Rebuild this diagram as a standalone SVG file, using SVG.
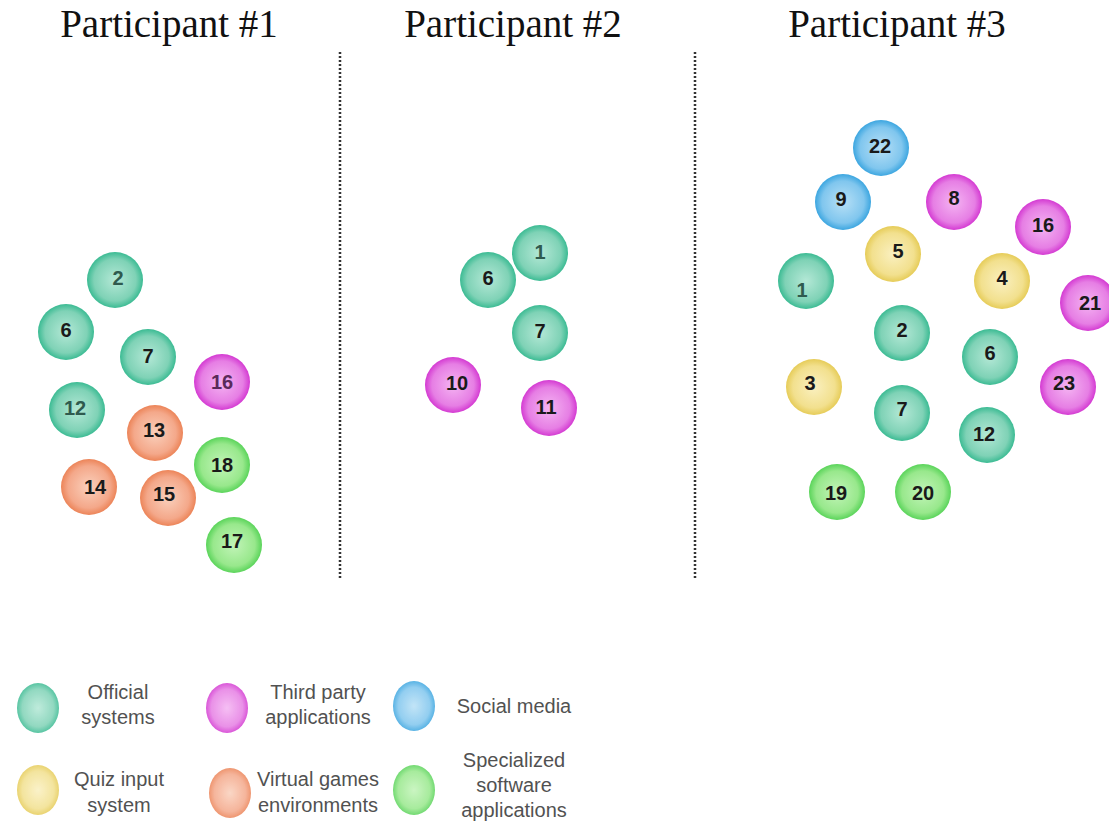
<svg xmlns="http://www.w3.org/2000/svg" width="1109" height="822" viewBox="0 0 1109 822">
<defs>
<radialGradient id="gT"><stop offset="0" stop-color="#b4e8d6"/><stop offset="0.75" stop-color="#7fd2b6"/><stop offset="1" stop-color="#3bbb93"/></radialGradient>
<radialGradient id="gM"><stop offset="0" stop-color="#f4b4f2"/><stop offset="0.75" stop-color="#e67ee4"/><stop offset="1" stop-color="#d43ad2"/></radialGradient>
<radialGradient id="gO"><stop offset="0" stop-color="#fad0bc"/><stop offset="0.75" stop-color="#f4a88a"/><stop offset="1" stop-color="#ec8458"/></radialGradient>
<radialGradient id="gG"><stop offset="0" stop-color="#c2f4b8"/><stop offset="0.75" stop-color="#98e88c"/><stop offset="1" stop-color="#5ad45a"/></radialGradient>
<radialGradient id="gY"><stop offset="0" stop-color="#faf0c0"/><stop offset="0.75" stop-color="#f2e08e"/><stop offset="1" stop-color="#e6cc58"/></radialGradient>
<radialGradient id="gB"><stop offset="0" stop-color="#b8e0f6"/><stop offset="0.75" stop-color="#80c6ee"/><stop offset="1" stop-color="#3ca6e0"/></radialGradient>
</defs>
<style>
.title{font-family:"Liberation Serif","Times New Roman",serif;font-size:39px;fill:#111;text-anchor:middle}
.n{font-family:"Liberation Sans",Arial,sans-serif;font-size:20px;font-weight:bold;fill:#1a1a1a;text-anchor:middle;dominant-baseline:central}
.lg{font-family:"Liberation Sans",Arial,sans-serif;font-size:20px;fill:#333;text-anchor:middle}
.sep{stroke:#333;stroke-width:2.5;stroke-dasharray:2 2}
.T{fill:url(#gT)} .M{fill:url(#gM)} .O{fill:url(#gO)} .G{fill:url(#gG)} .Y{fill:url(#gY)} .B{fill:url(#gB)}
</style>
<rect width="1109" height="822" fill="#fff"/>
<g id="titles">
<text class="title" x="169" y="37">Participant #1</text>
<text class="title" x="513" y="37">Participant #2</text>
<text class="title" x="897" y="37">Participant #3</text>
</g>
<g id="connectors">
<line class="sep" x1="340" y1="52" x2="340" y2="578"/>
<line class="sep" x1="695" y1="52" x2="695" y2="578"/>
</g>
<g id="p1">
<g id="p1-2"><circle class="T" cx="115" cy="280" r="28"/><text class="n" x="118" y="278" style="fill:#2f5a4e">2</text></g>
<g id="p1-6"><circle class="T" cx="66" cy="332" r="28"/><text class="n" x="66" y="330">6</text></g>
<g id="p1-7"><circle class="T" cx="148" cy="357" r="28"/><text class="n" x="148" y="356">7</text></g>
<g id="p1-16"><circle class="M" cx="222" cy="382" r="28"/><text class="n" x="222" y="382" style="fill:#5a2a5a">16</text></g>
<g id="p1-12"><circle class="T" cx="77" cy="410" r="28"/><text class="n" x="75" y="408" style="fill:#2f5a4e">12</text></g>
<g id="p1-13"><circle class="O" cx="155" cy="433" r="28"/><text class="n" x="154" y="430">13</text></g>
<g id="p1-18"><circle class="G" cx="222" cy="465" r="28"/><text class="n" x="222" y="465">18</text></g>
<g id="p1-14"><circle class="O" cx="89" cy="487" r="28"/><text class="n" x="95" y="487">14</text></g>
<g id="p1-15"><circle class="O" cx="168" cy="498" r="28"/><text class="n" x="164" y="494">15</text></g>
<g id="p1-17"><circle class="G" cx="234" cy="545" r="28"/><text class="n" x="232" y="541">17</text></g>
</g>
<g id="p2">
<g id="p2-1"><circle class="T" cx="540" cy="253" r="28"/><text class="n" x="540" y="252" style="fill:#2f5a4e">1</text></g>
<g id="p2-6"><circle class="T" cx="488" cy="280" r="28"/><text class="n" x="488" y="278">6</text></g>
<g id="p2-7"><circle class="T" cx="540" cy="333" r="28"/><text class="n" x="540" y="331">7</text></g>
<g id="p2-10"><circle class="M" cx="453" cy="385" r="28"/><text class="n" x="457" y="383">10</text></g>
<g id="p2-11"><circle class="M" cx="549" cy="408" r="28"/><text class="n" x="546" y="407">11</text></g>
</g>
<g id="p3">
<g id="p3-22"><circle class="B" cx="881" cy="148" r="28"/><text class="n" x="880" y="146">22</text></g>
<g id="p3-9"><circle class="B" cx="843" cy="202" r="28"/><text class="n" x="841" y="199">9</text></g>
<g id="p3-8"><circle class="M" cx="954" cy="202" r="28"/><text class="n" x="954" y="198">8</text></g>
<g id="p3-16"><circle class="M" cx="1043" cy="227" r="28"/><text class="n" x="1043" y="225">16</text></g>
<g id="p3-5"><circle class="Y" cx="893" cy="254" r="28"/><text class="n" x="898" y="251">5</text></g>
<g id="p3-1"><circle class="T" cx="806" cy="281" r="28"/><text class="n" x="802" y="290" style="fill:#2f5a4e">1</text></g>
<g id="p3-4"><circle class="Y" cx="1002" cy="281" r="28"/><text class="n" x="1002" y="278">4</text></g>
<g id="p3-21"><circle class="M" cx="1088" cy="303" r="28"/><text class="n" x="1090" y="303">21</text></g>
<g id="p3-2"><circle class="T" cx="902" cy="333" r="28"/><text class="n" x="902" y="330">2</text></g>
<g id="p3-6"><circle class="T" cx="990" cy="357" r="28"/><text class="n" x="990" y="353">6</text></g>
<g id="p3-3"><circle class="Y" cx="814" cy="387" r="28"/><text class="n" x="810" y="383">3</text></g>
<g id="p3-23"><circle class="M" cx="1068" cy="387" r="28"/><text class="n" x="1064" y="383">23</text></g>
<g id="p3-7"><circle class="T" cx="902" cy="413" r="28"/><text class="n" x="902" y="409">7</text></g>
<g id="p3-12"><circle class="T" cx="987" cy="435" r="28"/><text class="n" x="984" y="434">12</text></g>
<g id="p3-19"><circle class="G" cx="837" cy="492" r="28"/><text class="n" x="836" y="493">19</text></g>
<g id="p3-20"><circle class="G" cx="923" cy="492" r="28"/><text class="n" x="923" y="493">20</text></g>
</g>
<g id="legend" opacity="0.85">
<g id="lg-official"><ellipse class="T" cx="38" cy="708" rx="21" ry="25"/><text class="lg" x="118" y="699">Official</text><text class="lg" x="118" y="724">systems</text></g>
<g id="lg-third"><ellipse class="M" cx="227" cy="708" rx="21" ry="25"/><text class="lg" x="318" y="699">Third party</text><text class="lg" x="318" y="724">applications</text></g>
<g id="lg-social"><ellipse class="B" cx="414" cy="706" rx="21" ry="25"/><text class="lg" x="514" y="713">Social media</text></g>
<g id="lg-quiz"><ellipse class="Y" cx="38" cy="790" rx="21" ry="25"/><text class="lg" x="119" y="786">Quiz input</text><text class="lg" x="119" y="812">system</text></g>
<g id="lg-virtual"><ellipse class="O" cx="230" cy="793" rx="21" ry="25"/><text class="lg" x="318" y="786">Virtual games</text><text class="lg" x="318" y="812">environments</text></g>
<g id="lg-special"><ellipse class="G" cx="414" cy="790" rx="21" ry="25"/><text class="lg" x="514" y="767">Specialized</text><text class="lg" x="514" y="792">software</text><text class="lg" x="514" y="817">applications</text></g>
</g>
</svg>
